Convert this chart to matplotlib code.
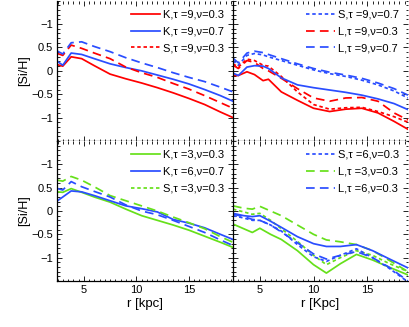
import matplotlib
matplotlib.use("Agg")
import matplotlib.pyplot as plt
from matplotlib.lines import Line2D
from matplotlib.ticker import MultipleLocator, FixedLocator, FixedFormatter

plt.rcParams["font.family"] = ["Liberation Sans", "DejaVu Sans"]

RED = "#ff0000"
BLUE = "#2a4dff"
GREEN = "#66e01a"
SOLID = "-"
DASH = (0, (5, 3))
DOT = (0, (2, 1.6))

# top-left panel
r_tl = [2.5, 3.0, 3.8, 4.8, 6.0, 7.5, 9.0, 10.5, 12.0, 13.5, 15.0, 16.5, 18.0, 19.2]
tl_k9_03 = [0.13, 0.10, 0.30, 0.26, 0.11, -0.07, -0.17, -0.26, -0.36, -0.47, -0.59, -0.72, -0.88, -1.00]
tl_k9_07 = [0.20, 0.12, 0.38, 0.35, 0.26, 0.15, 0.07, 0.00, -0.09, -0.18, -0.28, -0.40, -0.53, -0.65]
tl_s9_03 = [0.37, 0.33, 0.55, 0.48, 0.38, 0.26, 0.08, -0.04, -0.14, -0.27, -0.39, -0.53, -0.68, -0.80]
tl_s9_07 = [0.42, 0.36, 0.60, 0.62, 0.52, 0.41, 0.28, 0.17, 0.07, -0.04, -0.14, -0.23, -0.35, -0.45]

# top-right panel
r_tr = [2.5, 3.0, 3.8, 4.5, 5.3, 5.8, 7.0, 8.5, 10.0, 11.5, 13.0, 14.5, 16.0, 17.5, 18.8]
tr_s9_07 = [0.22, 0.12, 0.33, 0.37, 0.34, 0.30, 0.22, 0.12, 0.02, -0.06, -0.12, -0.20, -0.30, -0.43, -0.58]
tr_l9_07 = [0.27, 0.17, 0.38, 0.42, 0.39, 0.35, 0.26, 0.15, 0.05, -0.03, -0.09, -0.16, -0.26, -0.38, -0.52]
tr_s9_03 = [0.15, 0.08, 0.25, 0.22, 0.12, 0.10, -0.12, -0.45, -0.72, -0.82, -0.79, -0.78, -0.87, -0.98, -1.10]
tr_l9_03 = [0.12, 0.05, 0.22, 0.18, 0.05, 0.00, -0.16, -0.38, -0.58, -0.65, -0.58, -0.57, -0.65, -0.90, -1.05]
tr_k9_03 = [-0.10, -0.10, -0.02, -0.08, -0.21, -0.18, -0.45, -0.63, -0.80, -0.87, -0.82, -0.80, -0.90, -1.08, -1.25]
tr_k9_07 = [-0.05, -0.10, 0.08, 0.11, 0.10, 0.05, -0.15, -0.30, -0.36, -0.41, -0.46, -0.52, -0.60, -0.70, -0.83]

# bottom-left panel
r_bl = [2.5, 3.0, 3.8, 4.8, 6.0, 7.5, 9.0, 10.5, 12.0, 13.5, 15.0, 16.5, 18.0, 19.2]
bl_k3_03 = [0.41, 0.40, 0.48, 0.40, 0.30, 0.19, 0.04, -0.10, -0.20, -0.30, -0.41, -0.54, -0.67, -0.78]
bl_k6_07 = [0.22, 0.30, 0.43, 0.41, 0.33, 0.22, 0.11, 0.05, -0.02, -0.18, -0.26, -0.36, -0.50, -0.61]
bl_s3_03 = [0.66, 0.64, 0.74, 0.66, 0.52, 0.33, 0.22, 0.11, 0.00, -0.13, -0.25, -0.38, -0.55, -0.67]
bl_s6_03 = [0.48, 0.45, 0.63, 0.52, 0.42, 0.30, 0.13, 0.00, -0.08, -0.20, -0.33, -0.46, -0.62, -0.74]

# bottom-right panel
r_br = [2.5, 3.5, 4.3, 5.0, 6.0, 7.0, 8.5, 10.0, 11.2, 12.5, 14.0, 15.5, 17.0, 18.8]
br_l3_03 = [0.11, 0.06, 0.04, 0.10, 0.00, -0.10, -0.30, -0.50, -0.62, -0.66, -0.72, -0.85, -1.05, -1.30]
br_s3_03 = [0.04, -0.02, -0.07, -0.05, -0.20, -0.38, -0.65, -0.95, -1.15, -1.00, -0.85, -0.95, -1.12, -1.30]
br_k3_03 = [-0.28, -0.38, -0.46, -0.37, -0.50, -0.61, -0.85, -1.15, -1.33, -1.13, -0.93, -1.05, -1.20, -1.37]
br_k6_07 = [-0.05, -0.10, -0.12, -0.10, -0.22, -0.35, -0.55, -0.70, -0.76, -0.76, -0.72, -0.85, -1.02, -1.22]
br_s6_03 = [-0.10, -0.15, -0.20, -0.20, -0.30, -0.43, -0.72, -0.98, -1.08, -0.95, -0.81, -1.00, -1.22, -1.52]
br_l6_03 = [-0.07, -0.12, -0.18, -0.20, -0.30, -0.45, -0.68, -0.92, -1.03, -0.95, -0.87, -1.00, -1.20, -1.50]

legend_tl = [("K,τ =9,ν=0.3", RED, SOLID), ("K,τ =9,ν=0.7", BLUE, SOLID), ("S,τ =9,ν=0.3", RED, DOT)]
legend_tr = [("S,τ =9,ν=0.7", BLUE, DOT), ("L,τ =9,ν=0.3", RED, DASH), ("L,τ =9,ν=0.7", BLUE, DASH)]
legend_bl = [("K,τ =3,ν=0.3", GREEN, SOLID), ("K,τ =6,ν=0.7", BLUE, SOLID), ("S,τ =3,ν=0.3", GREEN, DOT)]
legend_br = [("S,τ =6,ν=0.3", BLUE, DOT), ("L,τ =3,ν=0.3", GREEN, DASH), ("L,τ =6,ν=0.3", BLUE, DASH)]

YTICKS = [-1, -0.5, 0, 0.5, 1]
YTICKLABELS = ["\u22121", "\u22120.5", "0", "0.5", "\u22121"]
LW = 1.25
FS = 8

fig = plt.figure(figsize=(4.09, 3.27), dpi=100)
x0, xm, x1 = 57 / 409, 233 / 409, 408 / 409
y1, ym, y0 = 0.998, 1 - 141 / 327, 1 - 281 / 327
ax_tl = fig.add_axes([x0, ym, xm - x0, y1 - ym])
ax_tr = fig.add_axes([xm, ym, x1 - xm, y1 - ym])
ax_bl = fig.add_axes([x0, y0, xm - x0, ym - y0])
ax_br = fig.add_axes([xm, y0, x1 - xm, ym - y0])


def style(ax, xlim, left, bottom):
    ax.set_xlim(*xlim)
    ax.set_ylim(-1.5, 1.5)
    for side in ["top", "right"]:
        ax.spines[side].set_visible(False)
    for side in ["left", "bottom"]:
        ax.spines[side].set_linewidth(0.9)
    ax.xaxis.set_major_locator(FixedLocator([5, 10, 15]))
    ax.xaxis.set_minor_locator(MultipleLocator(0.5))
    ax.yaxis.set_major_locator(FixedLocator(YTICKS))
    ax.yaxis.set_major_formatter(FixedFormatter(YTICKLABELS))
    ax.yaxis.set_minor_locator(MultipleLocator(0.1))
    ax.tick_params(which="both", direction="in", top=True, right=True,
                   labelsize=FS, width=0.6, pad=3)
    ax.tick_params(which="major", length=3.5)
    ax.tick_params(which="minor", length=1.8)
    if not left:
        ax.tick_params(labelleft=False)
    else:
        ax.set_ylabel("[Si/H]", fontsize=9, labelpad=1)
    if not bottom:
        ax.tick_params(labelbottom=False)


def add_legend(ax, entries):
    handles = [Line2D([], [], color=c, ls=ls, lw=LW) for _, c, ls in entries]
    labels = [lab for lab, _, _ in entries]
    ax.legend(handles, labels, loc="upper right", frameon=False, fontsize=FS,
              handlelength=2.6, handletextpad=0.3, labelspacing=0.62,
              borderaxespad=0.5, borderpad=0.3)


ax_tl.plot(r_tl, tl_k9_03, color=RED, ls=SOLID, lw=LW)
ax_tl.plot(r_tl, tl_k9_07, color=BLUE, ls=SOLID, lw=LW)
ax_tl.plot(r_tl, tl_s9_03, color=RED, ls=DASH, lw=LW)
ax_tl.plot(r_tl, tl_s9_07, color=BLUE, ls=DASH, lw=LW)

ax_tr.plot(r_tr, tr_s9_07, color=BLUE, ls=DOT, lw=LW)
ax_tr.plot(r_tr, tr_l9_07, color=BLUE, ls=DASH, lw=LW)
ax_tr.plot(r_tr, tr_s9_03, color=RED, ls=DOT, lw=LW)
ax_tr.plot(r_tr, tr_l9_03, color=RED, ls=DASH, lw=LW)
ax_tr.plot(r_tr, tr_k9_03, color=RED, ls=SOLID, lw=LW)
ax_tr.plot(r_tr, tr_k9_07, color=BLUE, ls=SOLID, lw=LW)

ax_bl.plot(r_bl, bl_k3_03, color=GREEN, ls=SOLID, lw=LW)
ax_bl.plot(r_bl, bl_k6_07, color=BLUE, ls=SOLID, lw=LW)
ax_bl.plot(r_bl, bl_s3_03, color=GREEN, ls=DASH, lw=LW)
ax_bl.plot(r_bl, bl_s6_03, color=BLUE, ls=DASH, lw=LW)

ax_br.plot(r_br, br_l3_03, color=GREEN, ls=DASH, lw=LW)
ax_br.plot(r_br, br_s3_03, color=GREEN, ls=DOT, lw=LW)
ax_br.plot(r_br, br_k3_03, color=GREEN, ls=SOLID, lw=LW)
ax_br.plot(r_br, br_k6_07, color=BLUE, ls=SOLID, lw=LW)
ax_br.plot(r_br, br_s6_03, color=BLUE, ls=DOT, lw=LW)
ax_br.plot(r_br, br_l6_03, color=BLUE, ls=DASH, lw=LW)

style(ax_tl, (2.45, 19.2), left=True, bottom=False)
style(ax_tr, (2.5, 18.8), left=False, bottom=False)
style(ax_bl, (2.45, 19.2), left=True, bottom=True)
style(ax_br, (2.5, 18.8), left=False, bottom=True)

add_legend(ax_tl, legend_tl)
add_legend(ax_tr, legend_tr)
add_legend(ax_bl, legend_bl)
add_legend(ax_br, legend_br)

ax_bl.set_xlabel("r [kpc]", fontsize=9.5, labelpad=2)
ax_br.set_xlabel("r [Kpc]", fontsize=9.5, labelpad=2)

fig.savefig("out.png", dpi=100)
